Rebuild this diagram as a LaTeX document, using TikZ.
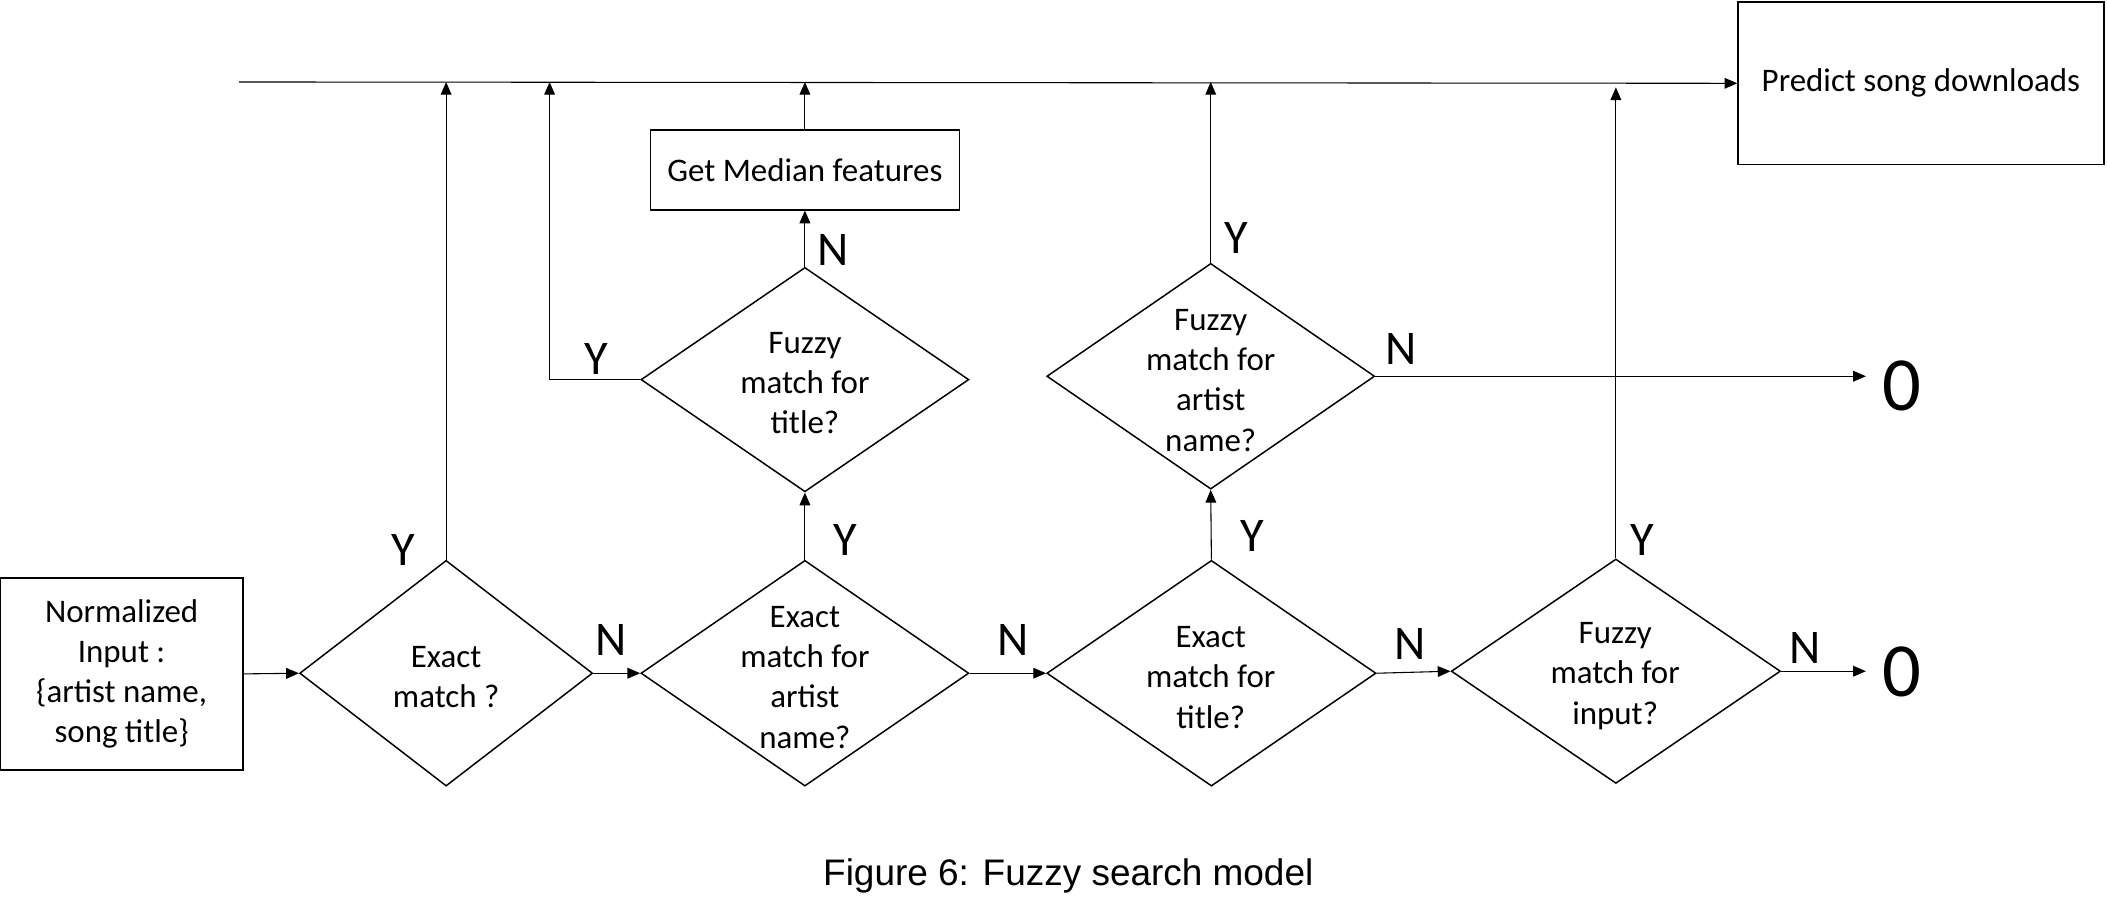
\documentclass[tikz,border=0pt]{standalone}
\usepackage{fontspec}
\setmainfont{Carlito}
\newfontfamily\capfont{Liberation Sans}
\usetikzlibrary{shapes.geometric,arrows.meta}
\begin{document}
\begin{tikzpicture}[x=1pt,y=-1pt,
  box/.style={draw,line width=1.3pt,inner sep=0pt,align=center,font=\fontsize{24.5}{30}\selectfont},
  dia/.style={draw,diamond,line width=1.1pt,inner sep=0pt},
  txt/.style={align=center,inner sep=0pt,font=\fontsize{24.5}{30}\selectfont},
  yn/.style={inner sep=0pt,font=\fontsize{36}{36}\selectfont},
  zero/.style={inner sep=0pt,outer xsep=12pt,font=\fontsize{57}{57}\selectfont},
  arr/.style={line width=0.8pt,-{Triangle[length=9.5pt,width=8pt]}},
  ln/.style={line width=0.8pt}]
\useasboundingbox (0,0) rectangle (1568,685);
% boxes
\node[box,minimum width=181pt,minimum height=143pt] (inp) at (90.5,501.5) {Normalized\\Input :\\\{artist name,\\ song title\}};
\node[box,minimum width=272pt,minimum height=121pt] (pred) at (1429.5,62) {Predict song downloads};
\node[box,minimum width=230pt,minimum height=59pt] (med) at (599,126.5) {Get Median features};
% diamonds
\node[dia,minimum width=218pt,minimum height=168pt] (d1) at (332,501) {};
\node[dia,minimum width=244pt,minimum height=168pt] (d2) at (599,501) {};
\node[dia,minimum width=244pt,minimum height=167pt] (d3) at (599,282.5) {};
\node[dia,minimum width=245pt,minimum height=168pt] (d4) at (901.5,501) {};
\node[dia,minimum width=244pt,minimum height=168pt] (d5) at (901,280) {};
\node[dia,minimum width=245pt,minimum height=167pt] (d6) at (1202.5,499.5) {};
% diamond texts
\node[txt] (t1) at (332,504) {Exact\\match ?};
\node[txt] (t2) at (599,504) {Exact\\match for\\artist\\name?};
\node[txt] (t3) at (599,285) {Fuzzy\\match for\\title?};
\node[txt] (t4) at (901,504) {Exact\\match for\\title?};
\node[txt] (t5) at (901,283) {Fuzzy\\match for\\artist\\name?};
\node[txt] (t6) at (1202,503) {Fuzzy\\match for\\input?};
% zeros
\node[zero] (z1) at (1415,287) {0};
\node[zero] (z2) at (1415,500) {0};
% coordinates
\coordinate (tl) at (178,61);
\coordinate (c3) at (409,61);
\coordinate (c6) at (1202.5,65);
% connectors
\draw[arr] (tl) -- (pred.west);
\draw[arr] (inp.east) -- (d1.west);
\draw[arr] (d1.north) -- (d1.north |- tl);
\draw[arr] (d1.east) -- (d2.west);
\draw[arr] (d2.north) -- (d3.south);
\draw[arr] (d3.north) -- (med.south);
\draw[arr] (med.north) -- (med.north |- tl);
\draw[arr] (d3.west) -| (c3);
\draw[arr] (d2.east) -- (d4.west);
\draw[arr] (d4.north) -- (d5.south);
\draw[arr] (d5.north) -- (d5.north |- tl);
\draw[arr] (d5.east) -- (d5.east -| z1.west);
\draw[arr] (d4.east) -- (d6.west);
\draw[arr] (d6.north) -- (c6);
\draw[arr] (d6.east) -- (d6.east -| z2.west);
% Y/N labels
\node[yn] (y1) at (300,409) {Y};
\node[yn] (n1) at (455,476) {N};
\node[yn] (y2) at (629,402) {Y};
\node[yn] (n3) at (620,186) {N};
\node[yn] (y3) at (444,267) {Y};
\node[yn] (n2) at (754,476) {N};
\node[yn] (y4) at (932,399) {Y};
\node[yn] (y5) at (920,177) {Y};
\node[yn] (n5) at (1043,260) {N};
\node[yn] (n4) at (1049,479) {N};
\node[yn] (y6) at (1222,402) {Y};
\node[yn] (n6) at (1343,482) {N};
% caption
\node[inner sep=0pt,font=\capfont\fontsize{27.5}{27.5}\selectfont] (cap) at (795,652) {Figure 6: Fuzzy search model};
\end{tikzpicture}
\end{document}
